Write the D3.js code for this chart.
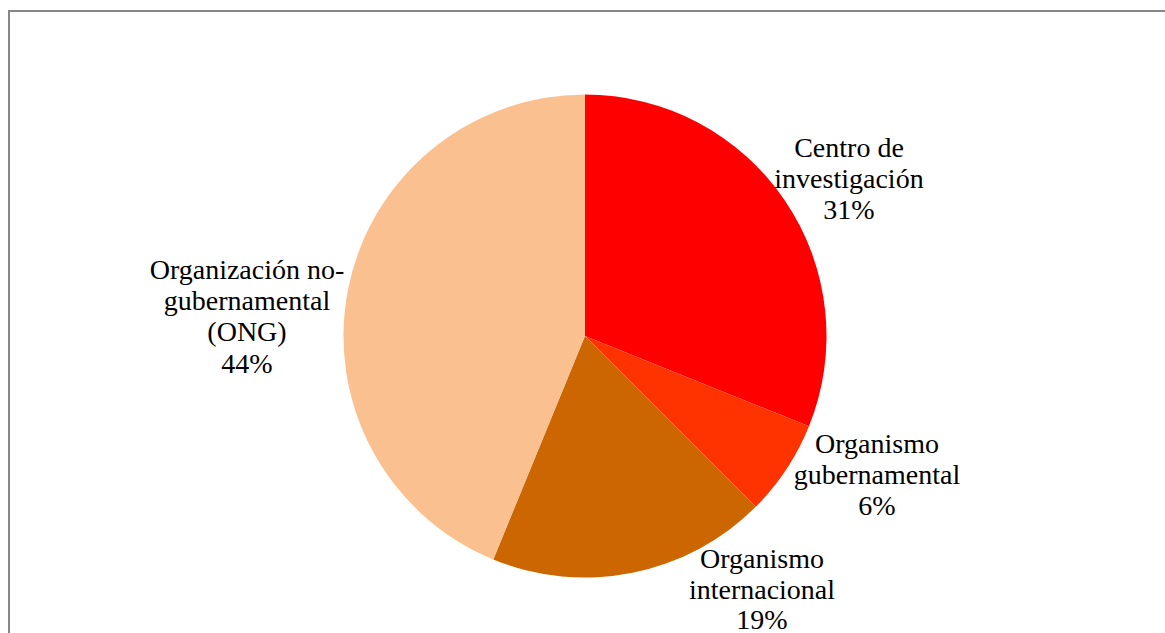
<!DOCTYPE html>
<html>
<head>
<meta charset="utf-8">
<script src="https://cdn.jsdelivr.net/npm/d3@7"></script>
<style>
  html, body { margin: 0; padding: 0; background: #fff; }
  svg { display: block; }
</style>
</head>
<body>
<svg id="chart" width="1165" height="633"></svg>
<script>
// ---- data ----
const categories = [
  "Centro de investigación",
  "Organismo gubernamental",
  "Organismo internacional",
  "Organización no-gubernamental (ONG)"
];
const values = [31.1, 6.4, 18.7, 43.8];
const labelLines = [
  ["Centro de", "investigación"],
  ["Organismo", "gubernamental"],
  ["Organismo", "internacional"],
  ["Organización no-", "gubernamental", "(ONG)"]
];
const colors = ["#FF0000", "#FF3300", "#CC6600", "#FAC090"];

// ---- layout ----
const W = 1165, H = 633;
const cx = 585, cy = 336, R = 241.5;
// label text centre (x) and first-line baseline (y), relative to pie centre
const labelOffsets = [[264, -179], [292, 117], [177, 232], [-338, -57]];
const lineH = 31.2;

const svg = d3.select("#chart");

// chart frame
svg.append("rect")
  .attr("x", 9).attr("y", 11)
  .attr("width", W + 20).attr("height", H + 20)
  .attr("fill", "#fff")
  .attr("stroke", "#868686")
  .attr("stroke-width", 2);

const pie = d3.pie().sort(null).value(d => d)
  .startAngle(0).endAngle(2 * Math.PI);
const arcs = pie(values);
const arc = d3.arc().innerRadius(0).outerRadius(R);

const total = d3.sum(values);
const g = svg.append("g").attr("transform", `translate(${cx},${cy})`);

g.selectAll("path.slice")
  .data(arcs)
  .join("path")
  .attr("class", "slice")
  .attr("d", arc)
  .attr("fill", (d, i) => colors[i]);

const lab = g.selectAll("text.lbl")
  .data(arcs)
  .join("text")
  .attr("class", "lbl")
  .attr("text-anchor", "middle")
  .attr("font-family", "'Liberation Serif', 'DejaVu Serif', serif")
  .attr("font-size", 28)
  .attr("fill", "#000");

lab.each(function(d, i) {
  const t = d3.select(this);
  const lines = labelLines[i].concat([d3.format(".0%")(d.value / total)]);
  lines.forEach((ln, k) => {
    t.append("tspan")
      .attr("x", labelOffsets[i][0])
      .attr("y", labelOffsets[i][1] + k * (i === 2 ? 30.6 : lineH))
      .text(ln);
  });
});
</script>
</body>
</html>
